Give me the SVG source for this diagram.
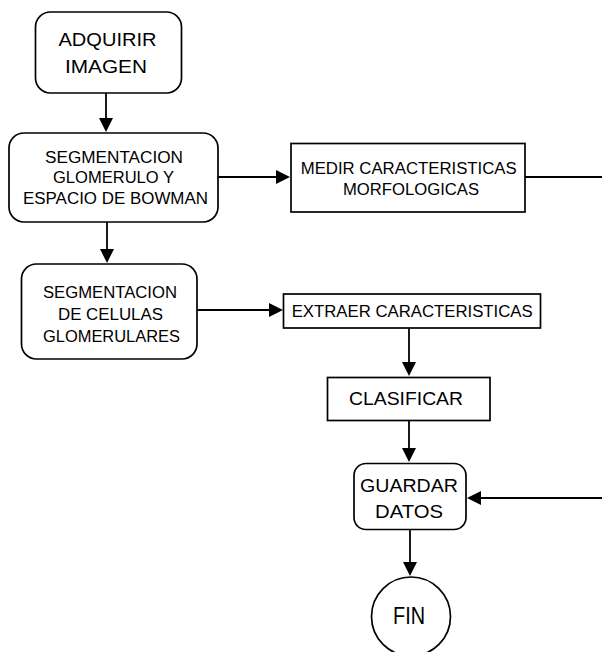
<svg xmlns="http://www.w3.org/2000/svg" width="602" height="652" viewBox="0 0 602 652">
<defs>
<marker id="arr" markerUnits="userSpaceOnUse" markerWidth="14" markerHeight="14" viewBox="0 0 14 14" refX="11" refY="7" orient="auto">
<path d="M0,0 L14,7 L0,14 z" fill="#000"/>
</marker>
<style>
.box{fill:#fff;stroke:#000;stroke-width:1.7}
.t{font-family:"Liberation Sans",Arial,sans-serif;font-size:16px;fill:#000;text-anchor:middle}
.big{font-size:19px}
.con line{stroke:#000;stroke-width:1.8}
</style>
</defs>
<rect width="602" height="652" fill="#fff"/>
<g id="adquirir">
<rect class="box" x="35.5" y="12" width="146" height="81" rx="15"/>
<text class="t big" x="107.5" y="46" textLength="98" lengthAdjust="spacingAndGlyphs">ADQUIRIR</text>
<text class="t big" x="106" y="73" textLength="82" lengthAdjust="spacingAndGlyphs">IMAGEN</text>
</g>
<g id="segmentacion-glomerulo">
<rect class="box" x="9" y="133" width="209" height="89" rx="15"/>
<text class="t" x="114" y="163" textLength="138" lengthAdjust="spacingAndGlyphs">SEGMENTACION</text>
<text class="t" x="113.5" y="183" textLength="121" lengthAdjust="spacingAndGlyphs">GLOMERULO Y</text>
<text class="t" x="115.5" y="204" textLength="185" lengthAdjust="spacingAndGlyphs">ESPACIO DE BOWMAN</text>
</g>
<g id="medir">
<rect class="box" x="291" y="143.5" width="234" height="68.5"/>
<text class="t" x="408.7" y="174" textLength="216" lengthAdjust="spacingAndGlyphs">MEDIR CARACTERISTICAS</text>
<text class="t" x="411" y="195" textLength="136" lengthAdjust="spacingAndGlyphs">MORFOLOGICAS</text>
</g>
<g id="segmentacion-celulas">
<rect class="box" x="21.5" y="264" width="175.5" height="95" rx="15"/>
<text class="t" x="110" y="298" textLength="134" lengthAdjust="spacingAndGlyphs">SEGMENTACION</text>
<text class="t" x="110.5" y="320" textLength="105" lengthAdjust="spacingAndGlyphs">DE CELULAS</text>
<text class="t" x="111.5" y="341.5" textLength="137" lengthAdjust="spacingAndGlyphs">GLOMERULARES</text>
</g>
<g id="extraer">
<rect class="box" x="283.5" y="294" width="257" height="34"/>
<text class="t" x="412.2" y="316.5" textLength="241" lengthAdjust="spacingAndGlyphs">EXTRAER CARACTERISTICAS</text>
</g>
<g id="clasificar">
<rect class="box" x="327.5" y="377.5" width="162.5" height="43"/>
<text class="t big" x="406" y="405" textLength="114" lengthAdjust="spacingAndGlyphs">CLASIFICAR</text>
</g>
<g id="guardar">
<rect class="box" x="354" y="463.5" width="112" height="66" rx="12"/>
<text class="t big" x="409" y="492" textLength="98" lengthAdjust="spacingAndGlyphs">GUARDAR</text>
<text class="t big" x="409" y="518" textLength="68" lengthAdjust="spacingAndGlyphs">DATOS</text>
</g>
<g id="fin">
<circle class="box" cx="411" cy="616.5" r="39.5"/>
<text class="t" style="font-size:23px" x="409" y="624" textLength="32" lengthAdjust="spacingAndGlyphs">FIN</text>
</g>
<g id="connectors" class="con">
<line x1="106" y1="93" x2="106" y2="129" marker-end="url(#arr)"/>
<line x1="218" y1="177" x2="287" y2="177" marker-end="url(#arr)"/>
<line x1="525" y1="177" x2="602" y2="177"/>
<line x1="107" y1="222" x2="107" y2="260" marker-end="url(#arr)"/>
<line x1="197" y1="310" x2="280" y2="310" marker-end="url(#arr)"/>
<line x1="409" y1="328" x2="409" y2="373" marker-end="url(#arr)"/>
<line x1="409" y1="421" x2="409" y2="459" marker-end="url(#arr)"/>
<line x1="602" y1="498" x2="470" y2="498" marker-end="url(#arr)"/>
<line x1="410" y1="529.5" x2="410" y2="573" marker-end="url(#arr)"/>
</g>
</svg>
